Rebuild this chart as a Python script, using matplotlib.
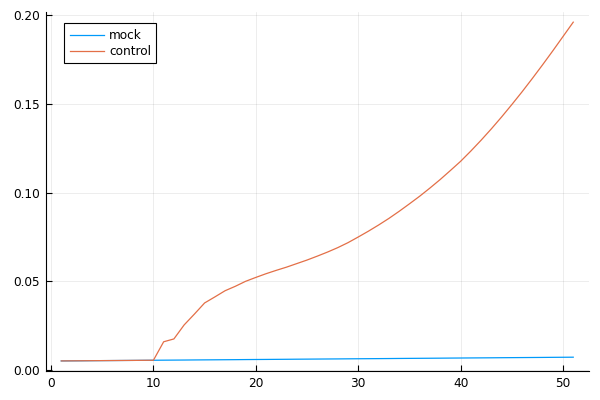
import numpy as np
import matplotlib
matplotlib.use("Agg")
import matplotlib.pyplot as plt

# values
steps = np.arange(1, 52)

mock = [0.00510, 0.00514, 0.00518, 0.00523, 0.00527, 0.00531, 0.00535, 0.00539, 0.00544, 0.00548,
        0.00552, 0.00556, 0.00560, 0.00565, 0.00569, 0.00573, 0.00577, 0.00581, 0.00586, 0.00590,
        0.00594, 0.00598, 0.00602, 0.00607, 0.00611, 0.00615, 0.00619, 0.00623, 0.00628, 0.00632,
        0.00636, 0.00640, 0.00644, 0.00649, 0.00653, 0.00657, 0.00661, 0.00665, 0.00670, 0.00674,
        0.00678, 0.00682, 0.00686, 0.00691, 0.00695, 0.00699, 0.00703, 0.00707, 0.00712, 0.00716,
        0.00720]

control = [0.00510, 0.00514, 0.00518, 0.00523, 0.00527, 0.00531, 0.00535, 0.00539, 0.00544, 0.00548,
           0.0159, 0.0175, 0.0254, 0.0315, 0.0378, 0.0412, 0.0447, 0.0472, 0.0500, 0.0522,
           0.0543, 0.0562, 0.0580, 0.0600, 0.0620, 0.0642, 0.0665, 0.0690, 0.0718, 0.0750,
           0.0783, 0.0818, 0.0855, 0.0895, 0.0937, 0.0980, 0.1026, 0.1074, 0.1125, 0.1177,
           0.1235, 0.1296, 0.1360, 0.1427, 0.1497, 0.1569, 0.1644, 0.1721, 0.1800, 0.1881,
           0.1962]

labels = ["mock", "control"]
colors = ["#009AFA", "#E36F47"]

fig = plt.figure(figsize=(6, 4), dpi=100)
ax = fig.add_axes([0.0765, 0.0723, 0.9045, 0.8977])

ax.plot(steps, mock, color=colors[0], lw=0.9, label=labels[0])
ax.plot(steps, control, color=colors[1], lw=0.9, label=labels[1])

# Plots.jl style: 3% padding around data
lo = min(min(mock), min(control))
hi = max(max(mock), max(control))
pad = 0.03 * (hi - lo)
ax.set_ylim(lo - pad, hi + pad)
ax.set_xlim(1 - 1.5, 51 + 1.5)

ax.set_xticks([0, 10, 20, 30, 40, 50])
ax.set_yticks([0.0, 0.05, 0.10, 0.15, 0.20])
ax.set_yticklabels(["0.00", "0.05", "0.10", "0.15", "0.20"])

ax.grid(True, color="black", alpha=0.1, lw=0.5)
ax.spines["top"].set_visible(False)
ax.spines["right"].set_visible(False)
ax.tick_params(direction="in", length=4, width=0.8, labelsize=8.7, colors="black", pad=4)

leg = ax.legend(loc="upper left", bbox_to_anchor=(0.034, 0.9685), borderaxespad=0,
                fontsize=8.7, fancybox=False, framealpha=1, edgecolor="black",
                handlelength=2.8, borderpad=0.45, labelspacing=0.25, handletextpad=0.45)
leg.get_frame().set_linewidth(0.8)

fig.savefig("out.png", dpi=100)
